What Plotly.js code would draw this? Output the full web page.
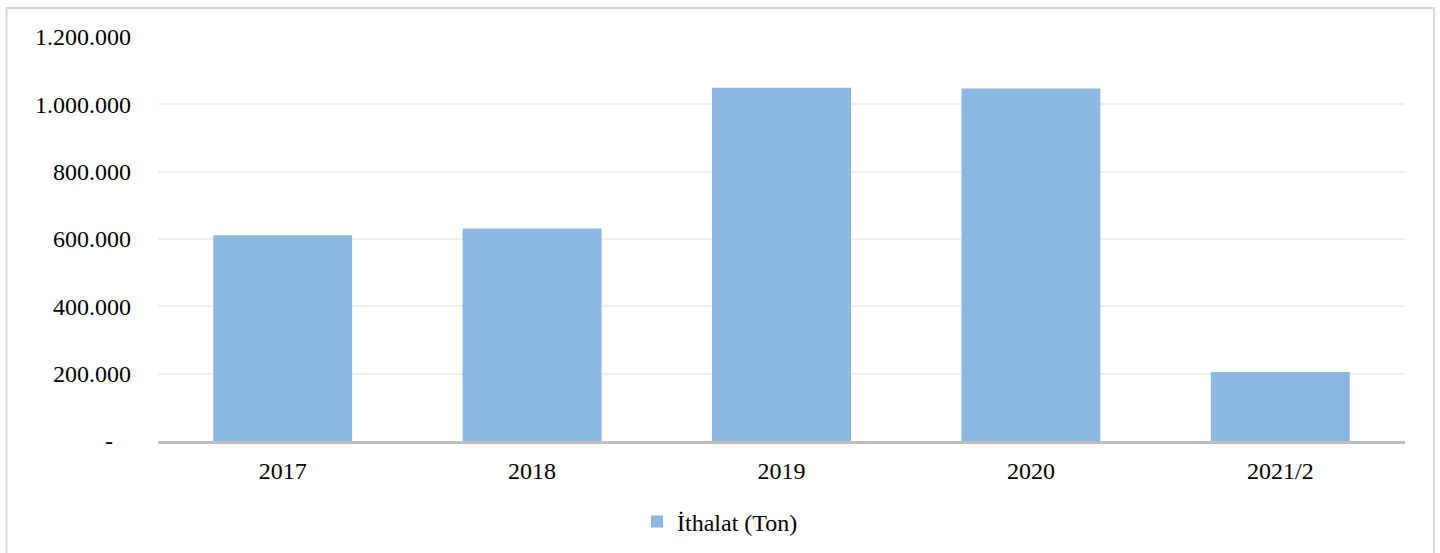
<!DOCTYPE html>
<html>
<head>
<meta charset="utf-8">
<script src="https://cdn.plot.ly/plotly-3.0.1.min.js"></script>
<style>
html,body{margin:0;padding:0;background:#fff;}
#chart{width:1440px;height:553px;}
</style>
</head>
<body>
<div id="chart"></div>
<script>
var categories = ["2017", "2018", "2019", "2020", "2021/2"];
var imports = [611500, 631000, 1049000, 1047000, 205000];
var seriesName = "İthalat (Ton)";
var yTickVals = [0, 200000, 400000, 600000, 800000, 1000000, 1200000];
var yTickText = ["-\u00a0\u00a0\u00a0", "200.000", "400.000", "600.000", "800.000", "1.000.000", "1.200.000"];

var trace = {
  type: "bar",
  x: categories,
  y: imports,
  name: seriesName,
  marker: {color: "#8cb7e0", line: {width: 0}},
  showlegend: true,
  hoverinfo: "x+y"
};

var font = {family: "'Liberation Serif', 'Times New Roman', serif", size: 24, color: "#000"};

var layout = {
  width: 1440,
  height: 553,
  margin: {l: 158, r: 35, t: 37, b: 112, autoexpand: false},
  paper_bgcolor: "#fff",
  plot_bgcolor: "#fff",
  font: font,
  bargap: 0.443,
  showlegend: true,
  legend: {
    orientation: "h",
    x: 0.4507, xanchor: "center",
    y: -0.2, yanchor: "middle",
    font: font,
    itemwidth: 30
  },
  xaxis: {
    type: "category",
    automargin: false,
    showgrid: false,
    showline: true,
    linecolor: "#bfbfbf",
    linewidth: 3,
    ticks: "",
    ticklabelstandoff: 6,
    tickfont: font,
    zeroline: false,
    fixedrange: true
  },
  yaxis: {
    range: [0, 1200000],
    automargin: false,
    tickmode: "array",
    tickvals: yTickVals,
    ticktext: yTickText,
    showgrid: true,
    gridcolor: "#efefef",
    gridwidth: 2,
    zeroline: false,
    showline: false,
    ticks: "",
    ticklabelstandoff: 26,
    tickfont: font,
    fixedrange: true
  },
  shapes: [{
    type: "rect",
    xref: "paper", yref: "paper",
    x0: -0.1215, x1: 1.0233,
    y0: -0.4, y1: 1.0718,
    line: {color: "#d9d9d9", width: 2},
    fillcolor: "rgba(0,0,0,0)",
    layer: "below"
  }]
};

Plotly.newPlot("chart", [trace], layout, {displayModeBar: false, staticPlot: true});
</script>
</body>
</html>
